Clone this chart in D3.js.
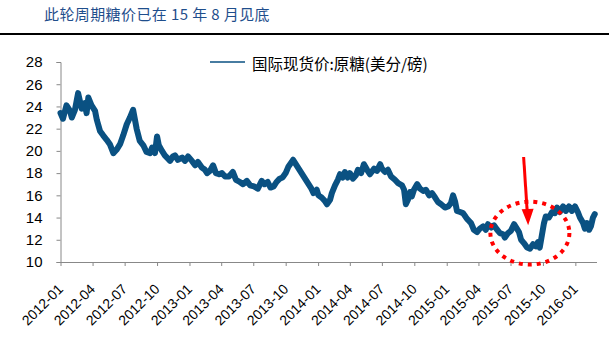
<!DOCTYPE html>
<html><head><meta charset="utf-8">
<script src="https://cdn.jsdelivr.net/npm/d3@7"></script>
<style>
html,body{margin:0;padding:0;background:#fff;}
svg{display:block;font-family:"Liberation Sans",Arial,"Noto Sans CJK SC",sans-serif;}
</style></head>
<body>
<svg id="chart" width="609" height="343"></svg>
<script>
const title = "此轮周期糖价已在 15 年 8 月见底";
const seriesName = "国际现货价:原糖(美分/磅)";
const yTicks = [10,12,14,16,18,20,22,24,26,28];
const xTickLabels = ["2012-01","2012-04","2012-07","2012-10","2013-01","2013-04","2013-07","2013-10","2014-01","2014-04","2014-07","2014-10","2015-01","2015-04","2015-07","2015-10","2016-01"];
const dates = [
"2012-01-01","2012-01-08","2012-01-18","2012-01-28","2012-02-02","2012-02-11","2012-02-20","2012-03-01","2012-03-10","2012-03-15","2012-03-20","2012-03-29","2012-04-08","2012-04-13","2012-04-22","2012-05-01","2012-05-11","2012-05-20","2012-05-30","2012-06-08","2012-06-18","2012-06-27","2012-07-07","2012-07-16","2012-07-25","2012-08-04","2012-08-13","2012-08-23","2012-09-01","2012-09-11","2012-09-17","2012-09-25","2012-10-01","2012-10-06","2012-10-15","2012-10-23","2012-11-01","2012-11-07","2012-11-15","2012-11-21","2012-11-29","2012-12-11","2012-12-19","2012-12-28",
"2013-01-08","2013-01-17","2013-01-25","2013-02-05","2013-02-14","2013-02-20","2013-02-28","2013-03-09","2013-03-17","2013-03-26","2013-04-03","2013-04-12","2013-04-23","2013-05-04","2013-05-13","2013-05-24","2013-06-02","2013-06-13","2013-06-22","2013-07-03","2013-07-14","2013-07-25","2013-08-02","2013-08-11","2013-08-19","2013-08-28","2013-09-05","2013-09-14","2013-09-22","2013-10-01","2013-10-09","2013-10-18","2013-10-22","2013-12-13","2013-12-19","2013-12-28",
"2014-01-02","2014-01-11","2014-01-20","2014-01-26","2014-02-04","2014-02-09","2014-02-18","2014-02-26","2014-03-04","2014-03-12","2014-03-18","2014-03-26","2014-04-01","2014-04-10","2014-04-18","2014-04-24","2014-05-03","2014-05-11","2014-05-20","2014-05-28","2014-06-09","2014-06-17","2014-06-26","2014-07-01","2014-07-10","2014-07-18","2014-07-27","2014-08-07","2014-08-16","2014-08-27","2014-09-02","2014-09-07","2014-09-13","2014-09-19","2014-09-24","2014-09-30","2014-10-09","2014-10-17","2014-10-26","2014-11-03","2014-11-12","2014-11-20","2014-11-29","2014-12-07","2014-12-16","2014-12-27",
"2015-01-05","2015-01-13","2015-01-19","2015-01-25","2015-01-30","2015-02-08","2015-02-16","2015-02-25","2015-03-02","2015-03-11","2015-03-19","2015-03-28","2015-04-05","2015-04-14","2015-04-22","2015-04-28","2015-05-07","2015-05-15","2015-05-24","2015-06-01","2015-06-10","2015-06-15","2015-06-24","2015-07-02","2015-07-11","2015-07-19","2015-07-25","2015-07-31","2015-08-08","2015-08-17","2015-08-25","2015-09-03","2015-09-11","2015-09-17","2015-09-22","2015-09-28","2015-10-04","2015-10-09","2015-10-18","2015-10-27","2015-11-04","2015-11-10","2015-11-18","2015-11-27","2015-12-05","2015-12-14","2015-12-22","2015-12-31",
"2016-01-08","2016-01-14","2016-01-23","2016-01-28","2016-02-03","2016-02-09","2016-02-14","2016-02-20","2016-02-25"];
const values = [
23.4,22.9,24.1,23.6,23.0,23.7,25.2,23.8,24.3,23.4,24.8,24.1,23.6,22.8,21.8,21.4,21.0,20.6,19.8,20.1,20.6,21.4,22.4,23.0,23.7,22.0,20.9,20.5,19.9,19.8,20.3,19.8,21.3,20.5,20.0,19.6,19.3,19.1,19.5,19.6,19.2,19.4,19.1,19.5,
19.1,18.7,19.0,18.5,18.3,18.0,18.2,18.7,18.0,17.9,18.0,17.7,17.7,18.1,17.4,17.2,17.0,17.3,16.9,16.8,16.6,17.3,17.0,17.2,16.7,16.8,17.2,17.5,17.6,18.0,18.6,19.0,19.2,16.6,16.2,16.5,
16.0,15.8,15.5,15.2,15.6,16.2,16.9,17.4,17.9,17.6,18.1,17.6,18.0,17.5,17.8,18.3,18.0,18.8,18.3,17.9,18.4,18.2,18.8,18.4,18.1,18.3,17.7,17.4,17.1,16.9,16.5,15.2,15.6,16.3,15.9,16.5,17.0,16.6,16.4,16.5,16.0,16.2,15.8,15.4,15.2,14.9,
15.0,15.3,16.0,15.4,14.6,14.5,14.4,14.0,13.8,13.5,12.9,12.7,13.0,13.2,12.9,13.4,13.1,13.3,12.9,12.6,12.5,12.2,12.6,12.8,13.4,13.0,12.7,12.0,11.7,11.3,11.2,11.6,11.4,11.8,11.3,12.4,13.5,14.1,14.0,14.5,14.4,14.9,14.5,15.0,14.6,15.0,14.6,15.0,
14.5,14.0,13.5,13.0,13.5,12.9,13.2,14.0,14.3];

const blue = "#0A5182";
const svg = d3.select("#chart");
const parse = d3.timeParse("%Y-%m-%d");
const data = dates.map((d,i)=>({date:parse(d), value:values[i]}));

const x = d3.scaleTime().domain([parse("2012-01-01"), parse("2016-03-01")]).range([60.5, 596.5]);
const y = d3.scaleLinear().domain([10,28]).range([262,62]);

// title
svg.append("text").attr("x",44).attr("y",20).attr("fill","#1F4E8C")
  .style("font-family","'Noto Sans CJK SC',sans-serif").style("font-size","15px")
  .style("letter-spacing","0.4px").text(title);
svg.append("line").attr("x1",0).attr("x2",609).attr("y1",34).attr("y2",34)
  .attr("stroke","#000").attr("stroke-width",2);

// y axis
const yAxis = svg.append("g").attr("transform","translate(60.5,0)")
  .call(d3.axisLeft(y).tickValues(yTicks).tickSize(4).tickPadding(14).tickFormat(d3.format("d")));
yAxis.select(".domain").attr("stroke","#888");
yAxis.selectAll(".tick line").attr("stroke","#888");
yAxis.selectAll("text").attr("fill","#000").style("font-size","15px").style("font-family","'Liberation Sans',Arial,sans-serif");

// x axis
const tickDates = xTickLabels.map(s=>parse(s+"-01"));
const xAxis = svg.append("g").attr("transform","translate(0,262)")
  .call(d3.axisBottom(x).tickValues(tickDates).tickSize(4).tickSizeOuter(0).tickFormat((d,i)=>xTickLabels[i]));
xAxis.select(".domain").attr("stroke","#888");
xAxis.selectAll(".tick line").attr("stroke","#888");
xAxis.selectAll("text").attr("fill","#000").style("font-size","14px")
  .style("font-family","'Liberation Sans',Arial,sans-serif")
  .attr("x",0).attr("y",0).attr("dy",0).attr("text-anchor","end")
  .attr("transform","translate(3,28) rotate(-45)");

// series
const line = d3.line().x(d=>x(d.date)).y(d=>y(d.value));
svg.append("path").datum(data).attr("d",line).attr("fill","none")
  .attr("stroke",blue).attr("stroke-width",6).attr("stroke-linejoin","round").attr("stroke-linecap","round");

// legend
svg.append("line").attr("x1",210).attr("x2",245).attr("y1",62).attr("y2",62).attr("stroke",blue).attr("stroke-width",1.5);
svg.append("text").attr("x",252).attr("y",70).attr("fill","#000")
  .style("font-family","'Noto Sans CJK SC',sans-serif").style("font-size","15.5px").text(seriesName);

// annotation: dotted ellipse around the Aug-2015 low
const lowIdx = values.indexOf(d3.min(values));
const cx = x(data[lowIdx].date), cy = y(12.6);
svg.append("ellipse").attr("cx",cx).attr("cy",cy).attr("rx",39.5).attr("ry",31.5)
  .attr("fill","none").attr("stroke","#FF0000").attr("stroke-width",4).attr("stroke-dasharray","4 5");
// arrow
const tipX = x(parse("2015-08-20")), tipY = y(13.3);
svg.append("line").attr("x1",tipX-4.5).attr("y1",157).attr("x2",tipX-0.8).attr("y2",tipY-12)
  .attr("stroke","#FF0000").attr("stroke-width",3);
svg.append("path").attr("d",`M${tipX},${tipY} L${tipX-6.5},${tipY-16} L${tipX+5.5},${tipY-16.5} Z`).attr("fill","#FF0000");
</script>
</body></html>
